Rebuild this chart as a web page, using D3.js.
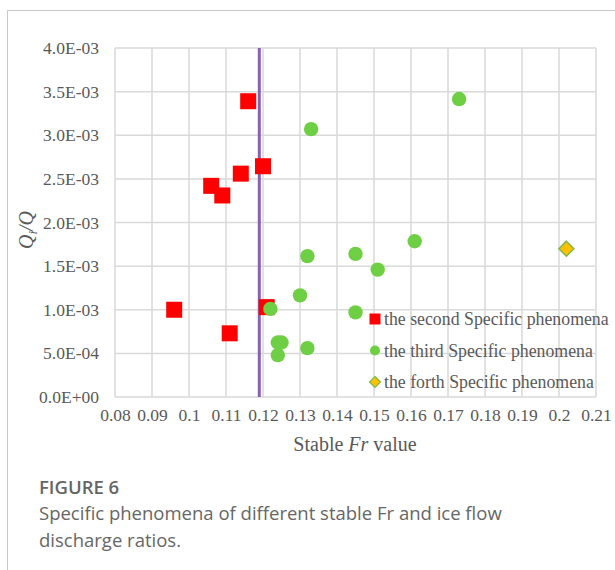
<!DOCTYPE html>
<html>
<head>
<meta charset="utf-8">
<script src="https://cdn.jsdelivr.net/npm/d3@7"></script>
<style>
  body { margin: 0; background: #fff; }
  svg { display: block; }
</style>
</head>
<body>
<div id="chart"></div>
<script>
// data
let secondFr = [0.116, 0.106, 0.109, 0.114, 0.120, 0.096, 0.111, 0.121];
let secondQ = [3.39e-3, 2.42e-3, 2.31e-3, 2.56e-3, 2.645e-3, 1.0e-3, 0.73e-3, 1.03e-3];
let thirdFr = [0.173, 0.133, 0.132, 0.130, 0.122, 0.124, 0.125, 0.124, 0.132, 0.145, 0.151, 0.161, 0.145];
let thirdQ = [3.415e-3, 3.07e-3, 1.615e-3, 1.165e-3, 1.01e-3, 0.625e-3, 0.625e-3, 0.48e-3, 0.56e-3, 1.64e-3, 1.46e-3, 1.785e-3, 0.97e-3];
let forthFr = [0.202];
let forthQ = [1.70e-3];
let stableFr = 0.119;

let xTicks = [0.08, 0.09, 0.1, 0.11, 0.12, 0.13, 0.14, 0.15, 0.16, 0.17, 0.18, 0.19, 0.2, 0.21];
let yTicks = [0, 0.5e-3, 1.0e-3, 1.5e-3, 2.0e-3, 2.5e-3, 3.0e-3, 3.5e-3, 4.0e-3];
let legendLabels = ["the second Specific phenomena", "the third Specific phenomena", "the forth Specific phenomena"];

let width = 615,
  height = 570;

let svg = d3.select("#chart")
  .append("svg")
  .attr("width", width)
  .attr("height", height);

// figure frame
svg.append("path")
  .attr("d", "M7.5,570V10.5H615")
  .attr("fill", "none")
  .attr("stroke", "#c8c8c8")
  .attr("stroke-width", 1);

let x = d3.scaleLinear().domain([0.08, 0.21]).range([115, 596]);
let y = d3.scaleLinear().domain([0, 4e-3]).range([397, 48]);

let serif = "'Liberation Serif', 'Times New Roman', serif";
let sans = "'Open Sans', 'Noto Sans', sans-serif";

let sci = v => {
  let [m, e] = v.toExponential(1).split("e");
  let n = +e;
  return m + "E" + (n < 0 ? "-" : "+") + String(Math.abs(n)).padStart(2, "0");
};

// grid
let grid = svg.append("g").attr("stroke", "#d9d9d9").attr("stroke-width", 1.5);
grid.selectAll(".vx")
  .data(xTicks)
  .join("line")
  .attr("x1", d => x(d)).attr("x2", d => x(d))
  .attr("y1", y(4e-3)).attr("y2", y(0));
grid.selectAll(".hy")
  .data(yTicks)
  .join("line")
  .attr("x1", x(0.08)).attr("x2", x(0.21))
  .attr("y1", d => y(d)).attr("y2", d => y(d));

// axes
let xAxis = svg.append("g")
  .attr("transform", `translate(0,${y(0)})`)
  .call(d3.axisBottom(x).tickValues(xTicks).tickSize(0).tickPadding(12).tickFormat(d => String(+d.toFixed(2))));
let yAxis = svg.append("g")
  .attr("transform", `translate(${x(0.08)},0)`)
  .call(d3.axisLeft(y).tickValues(yTicks).tickSize(0).tickPadding(16).tickFormat(sci));
[xAxis, yAxis].forEach(a => {
  a.select(".domain").remove();
  a.selectAll("text")
    .attr("fill", "#595959")
    .style("font-family", serif)
    .style("font-size", "17.5px");
});

// axis titles
let xt = svg.append("text")
  .attr("x", 355)
  .attr("y", 451)
  .attr("text-anchor", "middle")
  .attr("fill", "#595959")
  .style("font-family", serif)
  .style("font-size", "20px");
xt.append("tspan").text("Stable ");
xt.append("tspan").attr("font-style", "italic").text("Fr");
xt.append("tspan").text(" value");

let yt = svg.append("text")
  .attr("transform", "translate(33,230) rotate(-90)")
  .attr("text-anchor", "middle")
  .attr("fill", "#595959")
  .style("font-family", serif)
  .style("font-size", "20px")
  .style("font-style", "italic");
yt.append("tspan").text("Q");
yt.append("tspan").attr("dy", 4).style("font-size", "13px").text("i");
yt.append("tspan").attr("dy", -4).text("/Q");

// stable Fr line
svg.append("line")
  .attr("x1", x(stableFr)).attr("x2", x(stableFr))
  .attr("y1", y(4e-3)).attr("y2", y(0))
  .attr("stroke", "#8a60b2")
  .attr("stroke-width", 3);

// points
let sq = 16;
svg.append("g").selectAll("rect")
  .data(d3.zip(secondFr, secondQ))
  .join("rect")
  .attr("x", d => x(d[0]) - sq / 2)
  .attr("y", d => y(d[1]) - sq / 2)
  .attr("width", sq)
  .attr("height", sq)
  .attr("fill", "#ff0000");

svg.append("g").selectAll("circle")
  .data(d3.zip(thirdFr, thirdQ))
  .join("circle")
  .attr("cx", d => x(d[0]))
  .attr("cy", d => y(d[1]))
  .attr("r", 7.2)
  .attr("fill", "#6fcf44");

let diamond = (cx, cy, r) => `M${cx},${cy - r}L${cx + r},${cy}L${cx},${cy + r}L${cx - r},${cy}Z`;
svg.append("g").selectAll("path")
  .data(d3.zip(forthFr, forthQ))
  .join("path")
  .attr("d", d => diamond(x(d[0]), y(d[1]), 7.5))
  .attr("fill", "#ffc000")
  .attr("stroke", "#7cb84a")
  .attr("stroke-width", 1.5);

// legend
let lg = svg.append("g").attr("transform", "translate(375,319)");
let rowH = 31.5;
lg.append("rect").attr("x", -5.5).attr("y", -5.5).attr("width", 11).attr("height", 11).attr("fill", "#ff0000");
lg.append("circle").attr("cx", 0).attr("cy", rowH).attr("r", 5).attr("fill", "#6fcf44");
lg.append("path").attr("d", diamond(0, rowH * 2, 5.5)).attr("fill", "#ffc000").attr("stroke", "#7cb84a").attr("stroke-width", 1.2);
lg.selectAll("text")
  .data(legendLabels)
  .join("text")
  .attr("x", 9)
  .attr("y", (d, i) => i * rowH)
  .attr("dy", "0.35em")
  .attr("fill", "#595959")
  .style("font-family", serif)
  .style("font-size", "17.8px")
  .text(d => d);

// caption
svg.append("text")
  .attr("x", 39)
  .attr("y", 494)
  .attr("fill", "#666")
  .style("font-family", sans)
  .style("font-size", "18.5px")
  .style("font-weight", 600)
  .text("FIGURE 6");
svg.selectAll(".cap")
  .data(["Specific phenomena of different stable Fr and ice flow", "discharge ratios."])
  .join("text")
  .attr("x", 39)
  .attr("y", (d, i) => 520 + i * 27)
  .attr("fill", "#666")
  .style("font-family", sans)
  .style("font-size", "18.5px")
  .text(d => d);
</script>
</body>
</html>
